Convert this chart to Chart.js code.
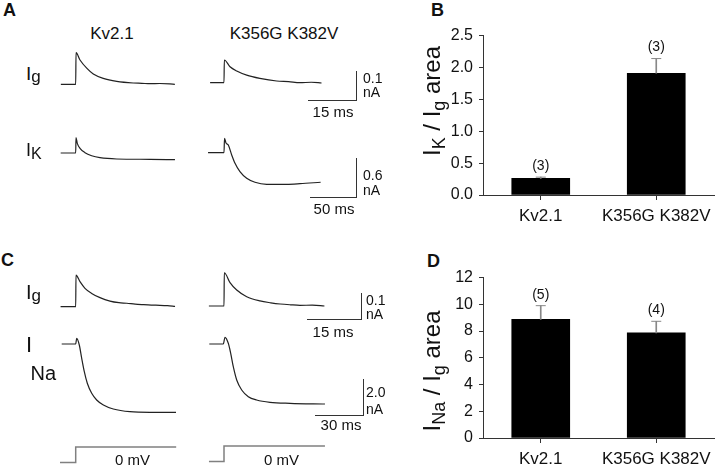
<!DOCTYPE html>
<html>
<head>
<meta charset="utf-8">
<script src="https://cdn.jsdelivr.net/npm/chart.js@4.4.1/dist/chart.umd.min.js"></script>
<style>
  html, body { margin: 0; padding: 0; background: #fff; }
  #fig { position: relative; width: 720px; height: 470px; overflow: hidden;
         font-family: "Liberation Sans", Arial, sans-serif; color: #111; }
  #fig canvas { position: absolute; }
  .t { position: absolute; line-height: 1; white-space: nowrap; }
  .sb { position: absolute; background: #333; }
  .ylab { position: absolute; line-height: 1; white-space: nowrap; font-size: 24px;
          transform: translate(-50%, -50%) rotate(-90deg); }
  .ylab sub { font-size: 18px; vertical-align: -5px; }
</style>
</head>
<body>
<div id="fig"></div>
<script>
// ---- bar panels B and D ----
const categories = ['Kv2.1', 'K356G K382V'];
const ikRatio = [0.26, 1.91];   // IK / Ig area
const ikErr = [0.02, 0.23];
const ikN = ['(3)', '(3)'];
const naRatio = [8.87, 7.86];   // INa / Ig area
const naErr = [1.03, 0.87];
const naN = ['(5)', '(4)'];

// ---- traces, time in ms from step onset, current in nA ----
const igKvA_t = [-4.6, 0, 0.1, 1.33, 3.41, 5.45, 8.54, 12.7, 17.8, 20.5, 23.0, 26.0, 30.7];
const igKvA_i = [0, 0, 0.108, 0.083, 0.055, 0.035, 0.020, 0.010, 0.0044, 0.0034, 0.0020, 0.0028, 0];
const igMutA_t = [-4.3, 0, 0.1, 1.86, 3.93, 7.03, 11.1, 16.3, 20.0, 23.5, 27.0, 30.2];
const igMutA_i = [0, 0, 0.0775, 0.0546, 0.040, 0.026, 0.015, 0.0058, 0.0035, 0, 0.0015, -0.001];
const ikKv_t = [-16.1, 0, 0.32, 1.71, 4.61, 9.97, 17.1, 26.0, 43.9, 79.6, 106.4];
const ikKv_i = [0, 0, 0.235, 0.149, 0.072, 0.005, -0.042, -0.072, -0.092, -0.097, -0.103];
const ikMut_t = [-17.1, 0, 0.54, 2.14, 4.61, 8.25, 11.8, 17.1, 24.3, 33.2, 45.8, 67.2, 81.5, 103.6];
const ikMut_i = [0, 0, 0.222, 0.149, 0.118, -0.035, -0.163, -0.292, -0.394, -0.455, -0.486, -0.486, -0.477, -0.455];
const igKvC_t = [-4.2, 0, 0.08, 1.19, 2.58, 4.44, 6.75, 9.53, 12.0, 14.2, 16.5, 18.8, 21.0, 23.4, 25.5, 27.6];
const igKvC_i = [0, 0, 0.119, 0.094, 0.069, 0.050, 0.034, 0.021, 0.0150, 0.013, 0.0095, 0.0075, 0.0060, 0.0053, 0.0040, 0.0015];
const igMutC_t = [-4.2, 0, 0.08, 1.67, 3.53, 6.31, 10.0, 13.0, 15.6, 18.5, 21.1, 24.5, 27.9];
const igMutC_i = [0, 0, 0.125, 0.088, 0.060, 0.035, 0.019, 0.012, 0.0075, 0.0045, 0.0026, 0.0030, 0];
const inaKv_t = [-8.75, 0, 0.63, 2.25, 3.75, 5.38, 7.25, 10.0, 13.1, 17.3, 23.5, 33.9, 46.4, 62.7];
const inaKv_i = [0, 0, 0.317, -0.056, -0.794, -1.539, -2.183, -2.739, -3.111, -3.389, -3.611, -3.761, -3.794, -3.794];
const inaMut_t = [-9.2, -0.44, 0.63, 2.69, 4.19, 5.81, 7.94, 11.06, 15.2, 20.4, 28.75, 41.25, 63.1];
const inaMut_i = [0, 0, 0.372, 0.039, -0.517, -1.261, -2.0, -2.556, -2.928, -3.111, -3.239, -3.294, -3.333];
const stepKv_t = [-9.8, 0, 0, 62.8];
const stepMut_t = [-9.4, 0, 0, 63.1];
const step_mV = [-100, -100, 0, 0];

const fig = document.getElementById('fig');
const FONT = '"Liberation Sans", Arial, sans-serif';

function addCanvas(box) {
  const c = document.createElement('canvas');
  c.width = box[2]; c.height = box[3];
  Object.assign(c.style, { left: box[0] + 'px', top: box[1] + 'px', width: box[2] + 'px', height: box[3] + 'px' });
  fig.appendChild(c);
  return c;
}

// cal: page pixel of t=0 / y=0 and pixels per unit (from the scale bars)
function trace(box, cal, t, y, color, lw, smooth) {
  new Chart(addCanvas(box), {
    type: 'line',
    data: { datasets: [{
      data: t.map((v, i) => ({ x: v, y: y[i] })),
      borderColor: color, borderWidth: lw, pointRadius: 0, clip: false,
      cubicInterpolationMode: smooth ? 'monotone' : 'default', tension: 0
    }] },
    options: {
      responsive: false, animation: false, events: [],
      layout: { padding: 0 },
      plugins: { legend: { display: false }, tooltip: { enabled: false } },
      scales: {
        x: { type: 'linear', display: false,
             min: (box[0] - cal.x0) / cal.px, max: (box[0] + box[2] - cal.x0) / cal.px },
        y: { type: 'linear', display: false,
             min: (cal.y0 - box[1] - box[3]) / cal.py, max: (cal.y0 - box[1]) / cal.py }
      }
    }
  });
}

const nLabels = {
  id: 'nLabels',
  afterDatasetsDraw(chart, args, opts) {
    const { ctx, scales: { x, y } } = chart;
    ctx.save();
    ctx.font = '14px ' + FONT;
    ctx.fillStyle = '#111';
    ctx.textAlign = 'center';
    ctx.textBaseline = 'bottom';
    opts.labels.forEach((s, i) => ctx.fillText(s, x.getPixelForValue(i), y.getPixelForValue(opts.tops[i]) - 4));
    ctx.restore();
  }
};

function barChart(box, padTop, yW, xH, means, errs, ns, yMax, yStep, dec) {
  const tops = means.map((m, i) => m + errs[i]);
  new Chart(addCanvas(box), {
    type: 'bar',
    data: {
      labels: categories,
      datasets: [
        { type: 'line', data: tops, showLine: false, pointStyle: 'line', pointRadius: 5,
          pointBorderColor: '#888', pointBorderWidth: 1, pointHoverRadius: 0 },
        { data: means.map((m, i) => [m, tops[i]]), backgroundColor: '#888', barThickness: 1, grouped: false },
        { data: means, backgroundColor: '#000', borderColor: '#000', barThickness: 58, grouped: false }
      ]
    },
    options: {
      responsive: false, animation: false, events: [],
      layout: { padding: { top: padTop, right: 5, left: 0, bottom: 0 } },
      plugins: { legend: { display: false }, tooltip: { enabled: false },
                 nLabels: { labels: ns, tops: tops } },
      scales: {
        x: {
          offset: true,
          grid: { drawOnChartArea: false, tickLength: 5, offset: false, color: '#333' },
          border: { color: '#333' },
          ticks: { color: '#111', font: { size: 17, family: FONT }, padding: 6 },
          afterFit: s => { s.height = xH; }
        },
        y: {
          min: 0, max: yMax,
          grid: { drawOnChartArea: false, tickLength: 4, color: '#333' },
          border: { color: '#333' },
          ticks: { stepSize: yStep, color: '#111', font: { size: 16, family: FONT }, padding: 6,
                   callback: v => v.toFixed(dec) },
          afterFit: s => { s.width = yW; }
        }
      }
    },
    plugins: [nLabels]
  });
}

function text(html, x, base, size, opt = {}) {
  const d = document.createElement('div');
  d.className = 't';
  d.innerHTML = html;
  d.style.fontSize = size + 'px';
  d.style.left = x + 'px';
  d.style.top = (base - 0.8465 * size) + 'px';
  if (opt.center) d.style.transform = 'translateX(-50%)';
  if (opt.bold) d.style.fontWeight = 'bold';
  fig.appendChild(d);
}

function ylab(html, cx, cy) {
  const d = document.createElement('div');
  d.className = 'ylab';
  d.innerHTML = html;
  d.style.left = cx + 'px';
  d.style.top = cy + 'px';
  fig.appendChild(d);
}

function scaleBar(xv, yTop, xLeft, yBot) {
  const v = document.createElement('div');
  v.className = 'sb';
  Object.assign(v.style, { left: xv + 'px', top: yTop + 'px', width: '1px', height: (yBot - yTop + 1) + 'px' });
  const h = document.createElement('div');
  h.className = 'sb';
  Object.assign(h.style, { left: xLeft + 'px', top: yBot + 'px', width: (xv - xLeft + 1) + 'px', height: '1px' });
  fig.appendChild(v); fig.appendChild(h);
}

// ---- panel A ----
const calIgA = { px: 3.23, py: 293 };
const calIk = { px: 0.933, py: 65 };
trace([55, 45, 125, 45], { ...calIgA, x0: 75.7, y0: 84.3 }, igKvA_t, igKvA_i, '#222', 1.2, true);
trace([205, 45, 125, 45], { ...calIgA, x0: 224, y0: 82.7 }, igMutA_t, igMutA_i, '#222', 1.2, true);
trace([55, 130, 125, 40], { ...calIk, x0: 75.7, y0: 153 }, ikKv_t, ikKv_i, '#222', 1.2, true);
trace([205, 130, 125, 60], { ...calIk, x0: 224, y0: 152.7 }, ikMut_t, ikMut_i, '#222', 1.2, true);
scaleBar(356, 71, 308, 100);
scaleBar(356, 158, 310, 197);

// ---- panel C ----
const calIgC = { px: 3.6, py: 266 };
const calNa = { px: 1.6, py: 18 };
const calV = { px: 1.6, py: 0.155 };
trace([55, 265, 125, 45], { ...calIgC, x0: 75.7, y0: 306.7 }, igKvC_t, igKvC_i, '#222', 1.2, true);
trace([205, 265, 125, 45], { ...calIgC, x0: 224, y0: 306 }, igMutC_t, igMutC_i, '#222', 1.2, true);
trace([55, 330, 125, 90], { ...calNa, x0: 75.7, y0: 344 }, inaKv_t, inaKv_i, '#222', 1.2, true);
trace([205, 330, 125, 90], { ...calNa, x0: 224, y0: 344 }, inaMut_t, inaMut_i, '#222', 1.2, true);
trace([55, 438, 125, 30], { ...calV, x0: 75.7, y0: 447 }, stepKv_t, step_mV, '#808080', 1.5, false);
trace([205, 438, 125, 30], { ...calV, x0: 224, y0: 446 }, stepMut_t, step_mV, '#808080', 1.5, false);
scaleBar(361, 293, 307, 319);
scaleBar(363, 379, 315, 415);

// ---- bars ----
barChart([440, 20, 280, 232], 15, 43, 57, ikRatio, ikErr, ikN, 2.5, 0.5, 1);
barChart([440, 262, 280, 208], 15, 43, 32, naRatio, naErr, naN, 12, 2, 0);

// ---- text ----
text('A', 3, 16, 18, { bold: true });
text('B', 431, 16, 18, { bold: true });
text('C', 1, 266, 18, { bold: true });
text('D', 427, 267, 18, { bold: true });
text('Kv2.1', 112, 39, 17, { center: true });
text('K356G K382V', 284, 39, 17, { center: true });

text('I<span style="font-size:17px;position:relative;top:2px">g</span>', 26, 80.5, 19);
text('I<span style="font-size:16px;position:relative;top:3px">K</span>', 26, 156.5, 18);
text('I<span style="font-size:17px;position:relative;top:2px">g</span>', 26, 299, 20);
text('I', 26, 352.5, 22);
text('Na', 30.5, 380, 20);

text('0.1', 363, 83, 14); text('nA', 363, 97, 14);
text('15 ms', 333, 116.5, 15, { center: true });
text('0.6', 363, 180, 14); text('nA', 363, 195, 14);
text('50 ms', 334, 214, 15, { center: true });
text('0.1', 366, 305, 14); text('nA', 366, 318.5, 14);
text('15 ms', 333, 337, 15, { center: true });
text('2.0', 366, 397, 14); text('nA', 366, 413.5, 14);
text('30 ms', 341, 429.5, 15, { center: true });
text('0 mV', 132.5, 465, 15, { center: true });
text('0 mV', 281.5, 465, 15, { center: true });

ylab('I<sub>K</sub> / I<sub>g</sub> area', 434, 101);
ylab('I<sub>Na</sub> / I<sub>g</sub> area', 434, 371);
</script>
</body>
</html>
